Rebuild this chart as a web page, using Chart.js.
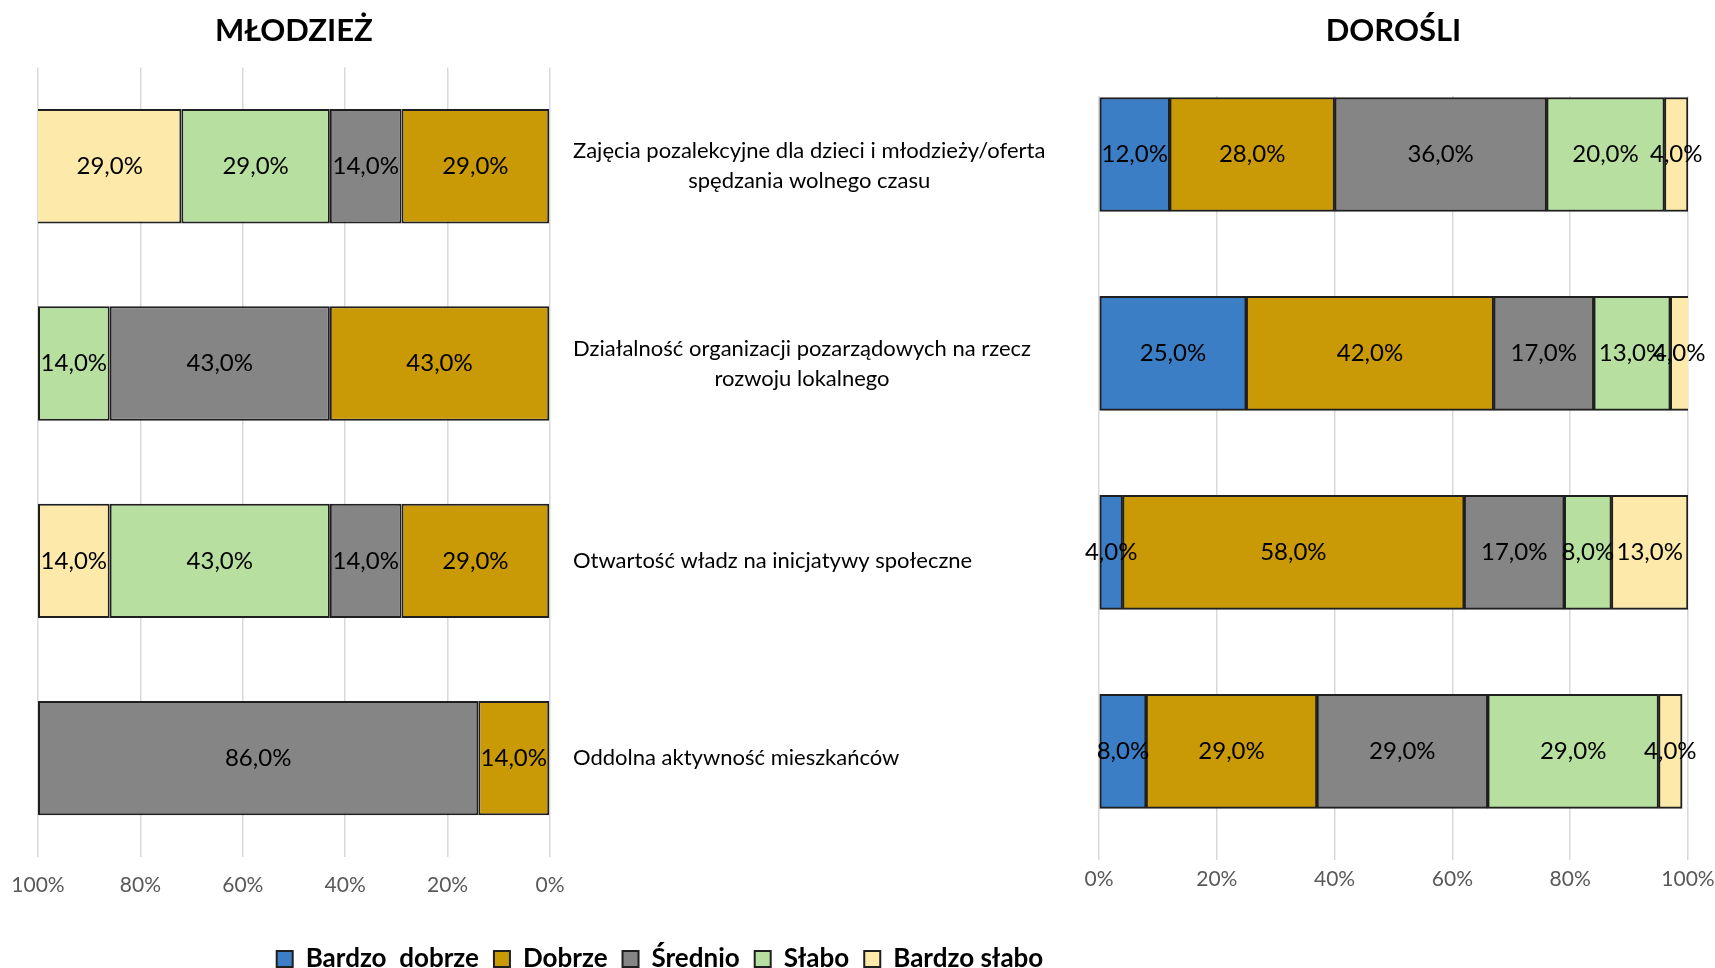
<!DOCTYPE html>
<html lang="pl">
<head>
<meta charset="utf-8">
<title>Młodzież / Dorośli</title>
<script src="https://cdn.jsdelivr.net/npm/chart.js@4.4.1/dist/chart.umd.min.js"></script>
<style>
  html, body { margin: 0; padding: 0; background: #ffffff; overflow: hidden; }
  #wrap { position: relative; width: 1715px; height: 968px; }
  #leftChart { position: absolute; left: 0; top: 0; }
  #rightChart { position: absolute; left: 1060px; top: 0; }
</style>
</head>
<body>
<div id="wrap">
  <canvas id="leftChart" width="1320" height="982"></canvas>
  <canvas id="rightChart" width="655" height="968"></canvas>
</div>
<script>
// Categories (top to bottom)
const categories = [
    ['Zajęcia pozalekcyjne dla dzieci i młodzieży/oferta', 'spędzania wolnego czasu'],
    ['Działalność organizacji pozarządowych na rzecz', 'rozwoju lokalnego'],
    ['Otwartość władz na inicjatywy społeczne'],
    ['Oddolna aktywność mieszkańców']
];

const seriesNames = ['Bardzo  dobrze', 'Dobrze', 'Średnio', 'Słabo', 'Bardzo słabo'];
const seriesColors = ['#3b7ec6', '#c99a06', '#858585', '#b7df9f', '#fde9a9'];

// MŁODZIEŻ (%)
const youthBardzoDobrze = [0, 0, 0, 0];
const youthDobrze = [29, 43, 29, 14];
const youthSrednio = [14, 43, 14, 86];
const youthSlabo = [29, 14, 43, 0];
const youthBardzoSlabo = [29, 0, 14, 0];

// DOROŚLI (%)
const adultBardzoDobrze = [12, 25, 4, 8];
const adultDobrze = [28, 42, 58, 29];
const adultSrednio = [36, 17, 17, 29];
const adultSlabo = [20, 13, 8, 29];
const adultBardzoSlabo = [4, 4, 13, 4];

const tickFont = { family: 'Lato', size: 21 };
const tickColor = '#595959';
const gridColor = '#d9d9d9';

function formatPercent(v) {
    return v.toFixed(1).replace('.', ',') + '%';
}

function buildDatasets(seriesData, sizeOptions, asPoints) {
    return seriesData.map((values, i) => Object.assign({
        label: seriesNames[i],
        data: asPoints ? values.map((v, k) => ({ x: v, y: k })) : values,
        backgroundColor: seriesColors[i],
        borderColor: '#1f1f1f',
        borderWidth: 2,
        borderSkipped: false,
        categoryPercentage: 1
    }, sizeOptions));
}

// value labels in the middle of each segment
const barValueLabels = {
    id: 'barValueLabels',
    afterDatasetsDraw(chart) {
        const ctx = chart.ctx;
        const area = chart.chartArea;
        ctx.save();
        ctx.font = '24px Lato';
        ctx.fillStyle = '#000000';
        ctx.textAlign = 'center';
        ctx.textBaseline = 'middle';
        chart.data.datasets.forEach((ds, di) => {
            const meta = chart.getDatasetMeta(di);
            meta.data.forEach((bar, i) => {
                const raw = ds.data[i];
                const v = typeof raw === 'object' ? raw.x : raw;
                if (!v) return;
                const left = Math.max(Math.min(bar.x, bar.base), area.left);
                const right = Math.min(Math.max(bar.x, bar.base), area.right);
                ctx.fillText(formatPercent(v), (left + right) / 2, bar.y);
            });
        });
        ctx.restore();
    }
};

// category texts between the two charts
const categoryLabels = {
    id: 'categoryLabels',
    afterDraw(chart) {
        const ctx = chart.ctx;
        const yScale = chart.scales.y;
        const x0 = chart.chartArea.right + 23;
        ctx.save();
        ctx.font = '22px Lato';
        ctx.fillStyle = '#000000';
        ctx.textAlign = 'center';
        ctx.textBaseline = 'middle';
        categories.forEach((lines, i) => {
            const widest = Math.max(...lines.map(line => ctx.measureText(line).width));
            const yc = yScale.getPixelForValue(i);
            lines.forEach((line, k) => {
                ctx.fillText(line, x0 + widest / 2, yc + (k - (lines.length - 1) / 2) * 30);
            });
        });
        ctx.restore();
    }
};

function xAxis(reverse, extra, tickPadding) {
    return {
        type: 'linear',
        stacked: true,
        reverse: reverse,
        min: 0,
        max: 100,
        border: { display: false },
        grid: { color: gridColor, lineWidth: 1.5, drawTicks: false },
        ticks: {
            stepSize: 20,
            padding: tickPadding,
            color: tickColor,
            font: tickFont,
            callback: value => value + '%'
        },
        afterFit: scale => {
            scale.height += extra;
            scale.paddingLeft = 0;
            scale.paddingRight = 0;
        }
    };
}

function titleOptions(text, bottom) {
    return {
        display: true,
        text: text,
        fullSize: false,
        color: '#000000',
        font: { family: 'Lato', size: 31, weight: 'bold' },
        padding: { top: 0, bottom: bottom }
    };
}

new Chart(document.getElementById('leftChart'), {
    type: 'bar',
    data: {
        labels: categories,
        datasets: buildDatasets([youthBardzoDobrze, youthDobrze, youthSrednio, youthSlabo, youthBardzoSlabo], { barPercentage: 0.58 }, false)
    },
    options: {
        indexAxis: 'y',
        responsive: false,
        animation: false,
        layout: { padding: { top: 12, left: 38, right: 38, bottom: 0 } },
        scales: {
            x: xAxis(true, 17, 16),
            y: {
                stacked: true,
                position: 'right',
                border: { display: false },
                grid: { display: false },
                ticks: { display: false },
                afterFit: scale => { scale.width = 732; }
            }
        },
        plugins: {
            title: titleOptions('MŁODZIEŻ', 18.4),
            legend: {
                position: 'bottom',
                labels: {
                    boxWidth: 16,
                    boxHeight: 16,
                    padding: 15,
                    color: '#000000',
                    font: { family: 'Lato', size: 26, weight: 'bold' }
                }
            },
            tooltip: { enabled: false }
        }
    },
    plugins: [barValueLabels, categoryLabels]
});

new Chart(document.getElementById('rightChart'), {
    type: 'bar',
    data: {
        labels: categories,
        datasets: buildDatasets([adultBardzoDobrze, adultDobrze, adultSrednio, adultSlabo, adultBardzoSlabo], { barThickness: 114 }, true)
    },
    options: {
        indexAxis: 'y',
        responsive: false,
        animation: false,
        layout: { padding: { top: 12, left: 39, right: 27, bottom: 69 } },
        scales: {
            x: xAxis(false, 0, 7),
            y: {
                type: 'linear',
                stacked: true,
                reverse: true,
                bounds: 'data',
                offset: false,
                grace: 0,
                min: -0.294,
                max: 3.545,
                ticks: { stepSize: 1 },
                display: false
            }
        },
        plugins: {
            title: titleOptions('DOROŚLI', 46.8),
            legend: { display: false },
            tooltip: { enabled: false }
        }
    },
    plugins: [barValueLabels]
});
</script>
</body>
</html>
